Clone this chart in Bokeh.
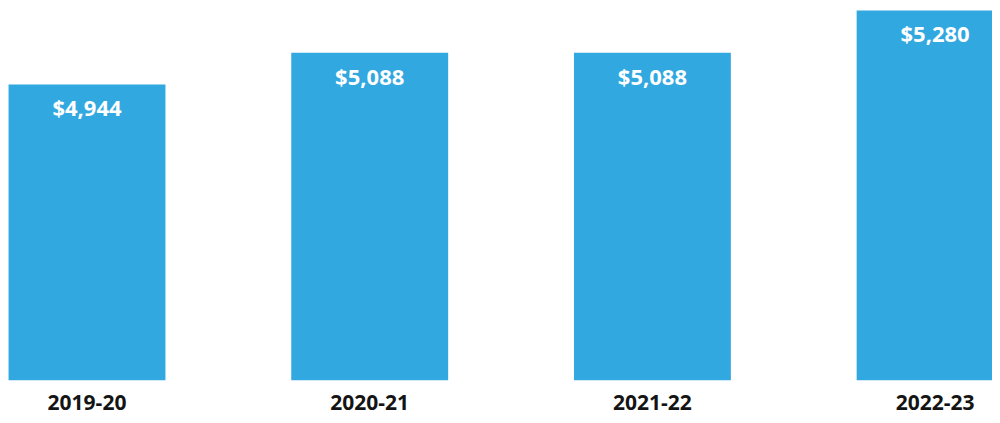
from bokeh.plotting import figure
from bokeh.models import ColumnDataSource, Range1d, FixedTicker
from bokeh.core.properties import value
from bokeh.embed import file_html
from bokeh.resources import INLINE

categories = ["2019-20", "2020-21", "2021-22", "2022-23"]
amounts = [4944, 5088, 5088, 5280]
amount_labels = ["$" + format(v, ",") for v in amounts]

xs = list(range(len(categories)))
src = ColumnDataSource(dict(x=xs, top=amounts, label=amount_labels))

p = figure(frame_width=992, frame_height=380, output_backend="svg", toolbar_location=None,
           x_range=Range1d(-0.306, 3.203), y_range=Range1d(3600, 5325),
           min_border=0, min_border_bottom=35)
p.outline_line_color = None
p.background_fill_color = "white"
p.border_fill_color = "white"
p.xgrid.visible = False
p.ygrid.visible = False
p.yaxis.visible = False

p.vbar(x="x", top="top", bottom=3600, width=0.555, source=src,
       fill_color="#31A8E0", line_color=None)

p.text(x="x", y="top", text="label", source=src, text_align="center",
       text_baseline="top", y_offset=8, text_color="white",
       text_font=value("Open Sans"), text_font_style="bold",
       text_font_size="22px")

ax = p.xaxis[0]
ax.ticker = FixedTicker(ticks=xs)
ax.major_label_overrides = {i: c for i, c in zip(xs, categories)}
ax.axis_line_color = None
ax.major_tick_line_color = None
ax.minor_tick_line_color = None
ax.major_label_text_font = "Open Sans"
ax.major_label_text_font_style = "bold"
ax.major_label_text_font_size = "21px"
ax.major_label_text_color = "#141414"
ax.major_label_standoff = 8

open("out.html", "w").write(file_html(p, INLINE))
